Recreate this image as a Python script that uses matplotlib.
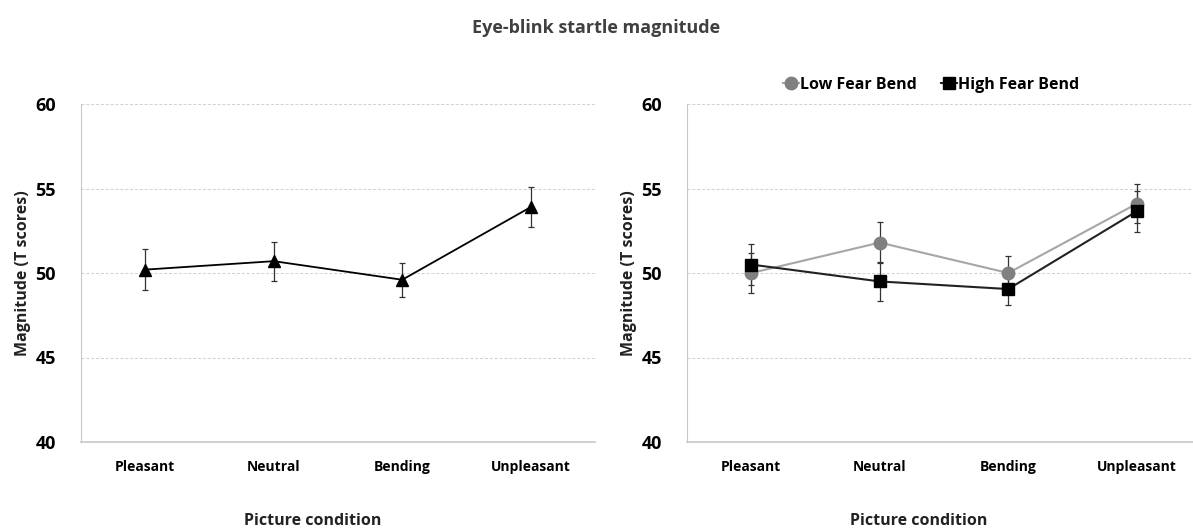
import matplotlib
matplotlib.use("Agg")
import matplotlib.pyplot as plt
from matplotlib.lines import Line2D
import numpy as np

plt.rcParams['font.family'] = ['Open Sans', 'DejaVu Sans']

conditions = ["Pleasant", "Neutral", "Bending", "Unpleasant"]

# left panel: all participants
all_mean = [50.2, 50.7, 49.6, 53.9]
all_err = [1.2, 1.15, 1.0, 1.2]

# right panel: split by fear of bending
low_mean = [50.0, 51.8, 50.0, 54.1]
low_err = [1.2, 1.2, 1.0, 1.15]
high_mean = [50.5, 49.5, 49.05, 53.65]
high_err = [1.2, 1.15, 0.95, 1.2]

W, H = 1193, 530
fig = plt.figure(figsize=(W/100, H/100), dpi=100)

def frac(x0, y0, x1, y1):
	return [x0/W, 1-y1/H, (x1-x0)/W, (y1-y0)/H]

ax1 = fig.add_axes(frac(81, 104, 595, 442))
ax2 = fig.add_axes(frac(687, 104, 1201, 442))

x = np.arange(len(conditions))
eb = dict(ecolor="#333333", elinewidth=0.9, capsize=2.5, capthick=0.9)

ax1.errorbar(x, all_mean, yerr=all_err, color="black", marker="^", ms=9, lw=1.3, **eb)

ax2.errorbar(x, low_mean, yerr=low_err, color="#a6a6a6", marker="o", ms=9,
	mfc="#808080", mec="#808080", lw=1.5, **eb)
ax2.errorbar(x, high_mean, yerr=high_err, color="#222222", marker="s", ms=9,
	mfc="black", mec="black", lw=1.5, **eb)

for ax in (ax1, ax2):
	ax.set_xlim(-0.5, 3.5)
	ax.set_ylim(40, 60)
	ax.set_yticks([40, 45, 50, 55, 60])
	ax.set_xticks(x)
	ax.set_xticklabels(conditions, fontsize=10, fontweight="bold")
	for t in ax.get_yticklabels():
		t.set_fontsize(13)
		t.set_fontweight("bold")
	ax.tick_params(length=0)
	ax.tick_params(axis="x", pad=13)
	ax.tick_params(axis="y", pad=18)
	ax.grid(axis="y", color="#d0d0d0", ls=(0, (3, 2)), lw=0.7)
	ax.set_axisbelow(True)
	for s in ("top", "right"):
		ax.spines[s].set_visible(False)
	ax.spines["left"].set_color("#c8c8c8")
	ax.spines["bottom"].set_color("#c8c8c8")
	ax.spines["bottom"].set_linewidth(1.2)
	ax.set_ylabel("Magnitude (T scores)", fontsize=11.5, fontweight="bold", color="#222222")
	ax.set_xlabel("Picture condition", fontsize=11.5, fontweight="bold", color="#222222")
	ax.yaxis.set_label_coords(-0.097, 0.5)
	ax.xaxis.set_label_coords(0.451, -0.21)

handles = [
	Line2D([], [], color="#a6a6a6", marker="o", ms=9, mfc="#808080", mec="#808080", lw=1.5),
	Line2D([], [], color="#222222", marker="s", ms=9, mfc="black", mec="black", lw=1.5),
]
ax2.legend(handles, ["Low Fear Bend", "High Fear Bend"], loc="lower center",
	bbox_to_anchor=(0.475, 1.0), ncol=2, frameon=False,
	prop={"weight": "bold", "size": 11.5}, handlelength=1.0,
	handletextpad=0.05, columnspacing=1.5, borderaxespad=0.3)

fig.suptitle("Eye-blink startle magnitude", fontsize=13, fontweight="bold",
	color="#404040", y=0.965)

fig.savefig("out.png", dpi=100)
